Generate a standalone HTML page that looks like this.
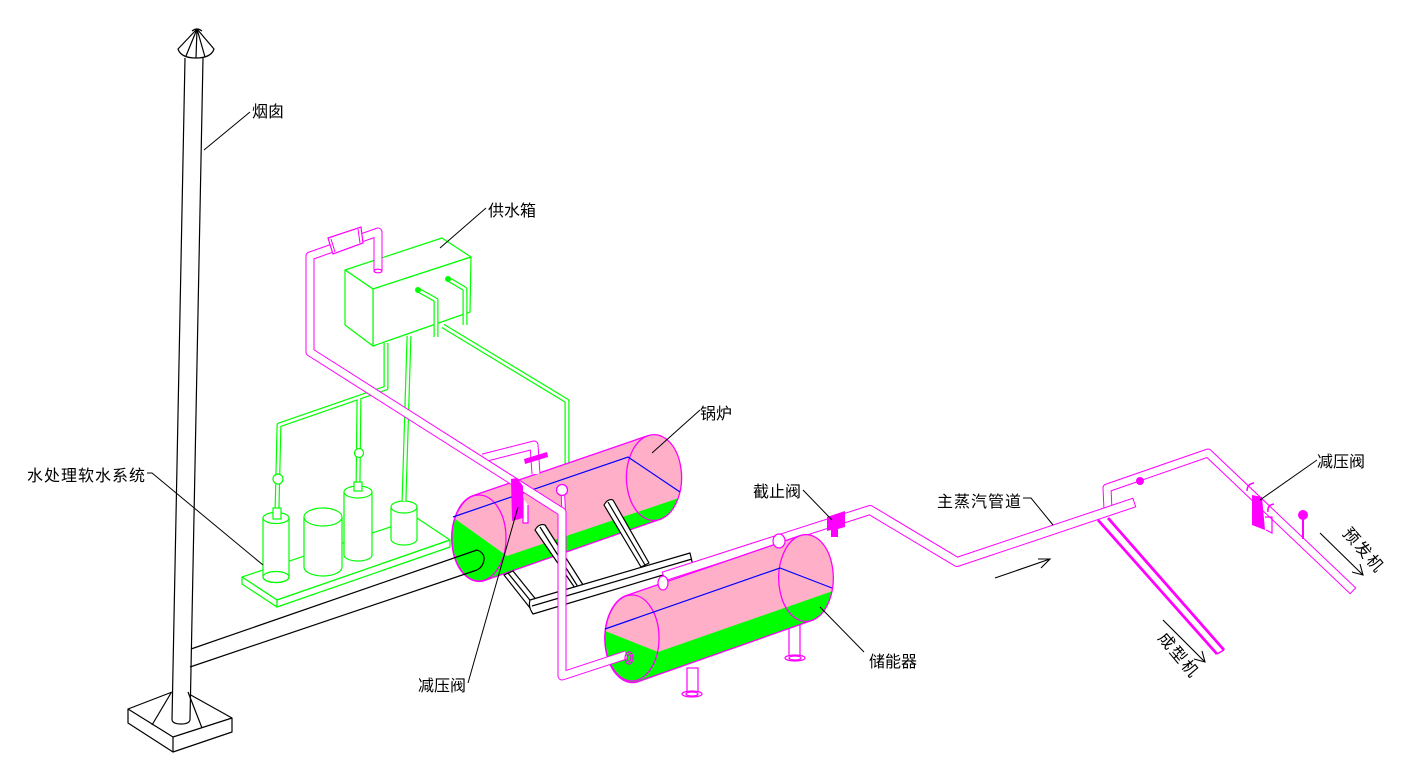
<!DOCTYPE html>
<html><head><meta charset="utf-8"><style>
html,body{margin:0;padding:0;background:#fff;width:1420px;height:769px;overflow:hidden}
svg{display:block}
text{font-family:"Liberation Sans","Noto Sans CJK SC",sans-serif;font-size:16px;fill:#000}
</style></head><body>
<svg xmlns="http://www.w3.org/2000/svg" width="1420" height="769" viewBox="0 0 1420 769">
<defs>
<clipPath id="cb"><path d="M472,496 L647,436 A27,42 0 0 1 661,519 L486,580 A27,43 0 0 1 472,496 Z"/></clipPath>
<clipPath id="ca"><path d="M625,596 L799,536 A27,43 0 0 1 813,620 L640,681 A27,43 0 0 1 625,596 Z"/></clipPath>
</defs>
<rect width="1420" height="769" fill="#fff"/>

<!-- chimney -->
<g fill="none" stroke="#000" stroke-width="1.2" stroke-linejoin="round">
 <polygon points="128,709 180,689 232,718 173,737" fill="#fff"/>
 <polyline points="128,709 128,723 173,752 232,732 232,718"/>
 <line x1="173" y1="737" x2="173" y2="752"/>
 <polygon points="185,58 203,58 190,722 172,722" fill="#fff" stroke="none"/>
 <line x1="185" y1="58" x2="172" y2="720"/>
 <line x1="203" y1="58" x2="190" y2="720"/>
 <path d="M172,720 Q173,724 181,724 Q189,724 190,720"/>
 <line x1="171" y1="693" x2="152" y2="725"/>
 <line x1="188" y1="692" x2="202" y2="728"/>
 <path d="M197,29 L178,49 Q181,58 196,58 Q211,58 214,49 Z" fill="#fff"/>
 <path d="M197,29 L186,56 M197,29 L196,58 M197,29 L205,57"/>
 <path d="M192,31 Q197,27 202,31"/>
</g>

<!-- water treatment system -->
<g fill="#fff" stroke="#00ff00" stroke-width="1.2" stroke-linejoin="round">
 <polygon points="242,577 417,518 450,540 277,600"/>
 <polygon points="242,577 277,600 277,607 242,584"/>
 <polygon points="277,600 450,540 450,547 277,607"/>
 <!-- cyl1 -->
 <path d="M263,518 L263,577 A13,5.5 0 0 0 289,577 L289,518 Z"/>
 <ellipse cx="276" cy="577" rx="13" ry="5.5" fill="none"/>
 <ellipse cx="276" cy="518" rx="13" ry="5.5"/>
 <!-- cyl2 -->
 <path d="M304,517 L304,567 A19,9 0 0 0 342,567 L342,517 Z"/>
 <ellipse cx="323" cy="517" rx="19" ry="9"/>
 <!-- cyl3 -->
 <path d="M344,492 L344,555 A14,6 0 0 0 372,555 L372,492 Z"/>
 <ellipse cx="358" cy="492" rx="14" ry="6"/>
 <!-- cyl4 -->
 <path d="M391,507 L391,539 A13,6 0 0 0 417,539 L417,507 Z"/>
 <ellipse cx="404" cy="507" rx="13" ry="6"/>
</g>

<!-- green pipes -->
<g fill="none" stroke-linejoin="round">
 <path d="M386,343 L386,388 L279,425 L277,511 M359,397 L358,486 M409,336 L404,501 M443,326 L567,401 L567,464" stroke="#00ff00" stroke-width="5"/>
 <path d="M386,343 L386,388 L279,425 L277,511 M359,397 L358,486 M409,336 L404,501 M443,326 L567,401 L567,464" stroke="#fff" stroke-width="2.6"/>
</g>
<g fill="#fff" stroke="#00ff00" stroke-width="1.2">
 <circle cx="278" cy="479" r="5"/>
 <circle cx="359" cy="453" r="4.5"/>
 <rect x="273" y="508" width="8" height="11"/>
 <rect x="354" y="482" width="8" height="9"/>
</g>

<!-- water tank -->
<g fill="#fff" stroke="#00ff00" stroke-width="1.2" stroke-linejoin="round">
 <polygon points="345,270 442,238 471,257 373,289"/>
 <polygon points="373,289 471,257 470,312 373,346"/>
 <polygon points="345,270 373,289 373,346 345,325"/>
</g>
<g fill="none" stroke-linejoin="round">
 <path d="M418,290 L436,300 L436,337 M448,279 L465,289 L465,325" stroke="#00ff00" stroke-width="5"/>
 <path d="M418,290 L436,300 L436,337 M448,279 L465,289 L465,325" stroke="#fff" stroke-width="2.6"/>
</g>
<g fill="#00ff00" stroke="#00ff00">
 <circle cx="418" cy="290" r="2.5"/>
 <circle cx="448" cy="279" r="2.5"/>
</g>

<!-- boiler -->
<path d="M472,496 L647,436 A27,42 0 0 1 661,519 L486,580 A27,43 0 0 1 472,496 Z" fill="#FFAFC8"/>
<g clip-path="url(#cb)"><polygon points="440,508 507,556 700,491 700,620 440,620" fill="#00ff00"/></g>
<g fill="none" stroke="#ff00ff" stroke-width="1.3">
 <path d="M472,496 L647,436 A27,42 0 0 1 661,519 L486,580 A27,43 0 0 1 472,496 Z"/>
 <ellipse cx="479" cy="538" rx="27" ry="43"/>
 <path d="M647,436 A27,42 0 0 0 661,519"/>
</g>
<polyline points="453,517 628,457 680,492" fill="none" stroke="#0000ff" stroke-width="1.2"/>

<!-- flue duct -->
<g fill="none" stroke="#000" stroke-width="1.2">
 <line x1="191" y1="649" x2="477" y2="550"/>
 <line x1="190" y1="667" x2="477" y2="570"/>
 <path d="M477,550 Q485,553 484,560 Q483,567 477,570"/>
</g>

<!-- boiler support -->
<g fill="#fff" stroke="#000" stroke-width="1.2" stroke-linejoin="round">
 <polygon points="504,575 513,571 542,607 534,613"/>
 <line x1="508" y1="573" x2="538" y2="610"/>
 <path d="M535,530 Q539,523 545,525 L585,588 L577,591 Z"/>
 <line x1="540" y1="527" x2="580" y2="590"/>
 <path d="M604,505 Q608,498 613,500 L649,563 L641,567 Z"/>
 <line x1="608" y1="502" x2="645" y2="565"/>
 <path d="M530,600 L690,553 L693,566 L533,614 Q528,607 530,600 Z"/>
 <line x1="532" y1="606" x2="692" y2="559"/>
</g>

<!-- U pipe on boiler -->
<g fill="none" stroke-linejoin="round">
 <path d="M483,458 L534,445 L536,474" stroke="#ff00ff" stroke-width="9"/>
 <path d="M483,458 L534,445 L536,474" stroke="#fff" stroke-width="7"/>
</g>
<polygon points="524,459 547,452 548,457 525,464" fill="#ff00ff"/>
<!-- gauge on boiler -->
<path d="M563,496 L564,521" stroke="#ff00ff" stroke-width="4.5" fill="none"/>
<path d="M563,496 L564,521" stroke="#fff" stroke-width="2.5" fill="none"/>
<circle cx="562" cy="490" r="5.5" fill="#fff" stroke="#ff00ff" stroke-width="1.3"/>

<!-- main steam pipe and branches -->
<g fill="none" stroke-linejoin="round">
 <path d="M1108,510 L1107,488 L1208,453 L1350,588" stroke="#ff00ff" stroke-width="9" stroke-linecap="square"/>
 <path d="M1108,510 L1107,488 L1208,453 L1350,588" stroke="#fff" stroke-width="7" stroke-linecap="square"/>
</g>
<g stroke="#ff00ff" stroke-width="2.8" fill="none">
 <line x1="1098" y1="520" x2="1217" y2="654"/>
 <line x1="1108" y1="518" x2="1224" y2="650"/>
 <line x1="1217" y1="654" x2="1224" y2="650" stroke-width="1.5"/>
</g>
<g fill="none" stroke-linejoin="round">
 <path d="M668,575 L870,510 L957,562 L1130,504" stroke="#ff00ff" stroke-width="10" stroke-linecap="square"/>
 <path d="M668,575 L870,510 L957,562 L1130,504" stroke="#fff" stroke-width="8" stroke-linecap="square"/>
</g>
<polygon points="827,517 845,511 845,527 838,529 838,537 831,537 831,530 827,531" fill="#ff00ff"/>
<circle cx="1140" cy="481" r="4" fill="#ff00ff"/>
<!-- right reducing valve -->
<polygon points="1252,495 1262,497 1265,530 1252,525" fill="#ff00ff"/>
<polyline points="1265,517 1272,517 1272,533 1266,530" fill="none" stroke="#ff00ff" stroke-width="1.2"/>
<path d="M1247,491 Q1247,484 1254,483 M1268,512 Q1267,505 1274,504" fill="none" stroke="#ff00ff" stroke-width="1.5"/>
<line x1="1303" y1="518" x2="1303" y2="539" stroke="#ff00ff" stroke-width="2"/>
<circle cx="1303" cy="515" r="5" fill="#ff00ff"/>

<!-- accumulator -->
<g fill="#fff" stroke="#ff00ff" stroke-width="1.2">
 <rect x="687" y="668" width="11" height="25"/>
 <ellipse cx="692" cy="694" rx="10" ry="3"/>
 <ellipse cx="692" cy="694" rx="6" ry="2"/>
 <rect x="789" y="612" width="11" height="45"/>
 <ellipse cx="795" cy="658" rx="10" ry="3"/>
 <ellipse cx="795" cy="658" rx="6" ry="2"/>
</g>
<path d="M625,596 L799,536 A27,43 0 0 1 813,620 L640,681 A27,43 0 0 1 625,596 Z" fill="#FFAFC8"/>
<g clip-path="url(#ca)"><polygon points="595,627 658,652 850,585 850,700 595,700" fill="#00ff00"/></g>
<g fill="none" stroke="#ff00ff" stroke-width="1.3">
 <path d="M625,596 L799,536 A27,43 0 0 1 813,620 L640,681 A27,43 0 0 1 625,596 Z"/>
 <ellipse cx="632" cy="638" rx="27" ry="43"/>
 <path d="M799,536 A27,43 0 0 0 813,620"/>
</g>
<polyline points="605,629 780,568 832,588" fill="none" stroke="#0000ff" stroke-width="1.2"/>
<g fill="#fff" stroke="#ff00ff" stroke-width="1.2">
 <ellipse cx="663" cy="583" rx="5" ry="7"/>
 <ellipse cx="779" cy="541" rx="6" ry="7"/>
</g>

<!-- supply pipe from tank to accumulator -->
<g fill="none" stroke-linejoin="round">
 <path d="M378,271 L378,232 L310,256 L310,352 L562,512 L562,676 L626,655" stroke="#ff00ff" stroke-width="9"/>
 <path d="M378,271 L378,232 L310,256 L310,352 L562,512 L562,676 L626,655" stroke="#fff" stroke-width="7"/>
</g>
<ellipse cx="378" cy="271" rx="4" ry="1.8" fill="#fff" stroke="#ff00ff" stroke-width="1.2"/>
<polygon points="328,238 361,227 363,243 333,254" fill="#fff" stroke="#ff00ff" stroke-width="1.2"/>
<path d="M331,239 L335,252 M358,229 L360,243" stroke="#ff00ff" stroke-width="1" fill="none"/>
<path d="M523,498 L523,523 L528,523 L528,505" fill="#fff" stroke="#ff00ff" stroke-width="1.2"/>
<polygon points="511,479 517,478 523,486 523,518 512,521" fill="#ff00ff"/>
<g fill="none" stroke="#ff00ff" stroke-width="1.2">
 <ellipse cx="629" cy="658" rx="4" ry="6"/>
 <ellipse cx="629" cy="658" rx="2" ry="3.5"/>
</g>

<!-- arrows -->
<g fill="none" stroke="#000" stroke-width="1.1">
 <line x1="995" y1="578" x2="1050" y2="559"/>
 <path d="M1038,559 L1050,559 L1041,568"/>
 <line x1="1320" y1="533" x2="1363" y2="575"/>
 <path d="M1352,572 L1363,575 L1360,564"/>
 <line x1="1163" y1="620" x2="1205" y2="662"/>
 <path d="M1194,659 L1205,662 L1202,651"/>
</g>

<!-- leaders -->
<g fill="none" stroke="#000" stroke-width="1">
 <line x1="250" y1="112" x2="204" y2="150"/>
 <line x1="486" y1="208" x2="440" y2="248"/>
 <line x1="700" y1="410" x2="652" y2="453"/>
 <polyline points="147,473 152,473 263,565"/>
 <line x1="468" y1="683" x2="518" y2="507"/>
 <line x1="803" y1="490" x2="832" y2="520"/>
 <polyline points="1023,498 1031,498 1053,525"/>
 <line x1="1317" y1="460" x2="1260" y2="500"/>
 <line x1="820" y1="607" x2="864" y2="652"/>
</g>

<!-- labels -->
<text x="252" y="117">烟囱</text>
<text x="488" y="216">供水箱</text>
<text x="700" y="419">锅炉</text>
<text x="27" y="481" letter-spacing="1">水处理软水系统</text>
<text x="418" y="691">减压阀</text>
<text x="753" y="497">截止阀</text>
<text x="937" y="507" letter-spacing="1">主蒸汽管道</text>
<text x="1317" y="467">减压阀</text>
<text x="869" y="667">储能器</text>
<text transform="translate(1363,551) rotate(49)" text-anchor="middle" dominant-baseline="central" letter-spacing="2">预发机</text>
<text transform="translate(1178,656) rotate(50)" text-anchor="middle" dominant-baseline="central" letter-spacing="2">成型机</text>
</svg>
</body></html>
